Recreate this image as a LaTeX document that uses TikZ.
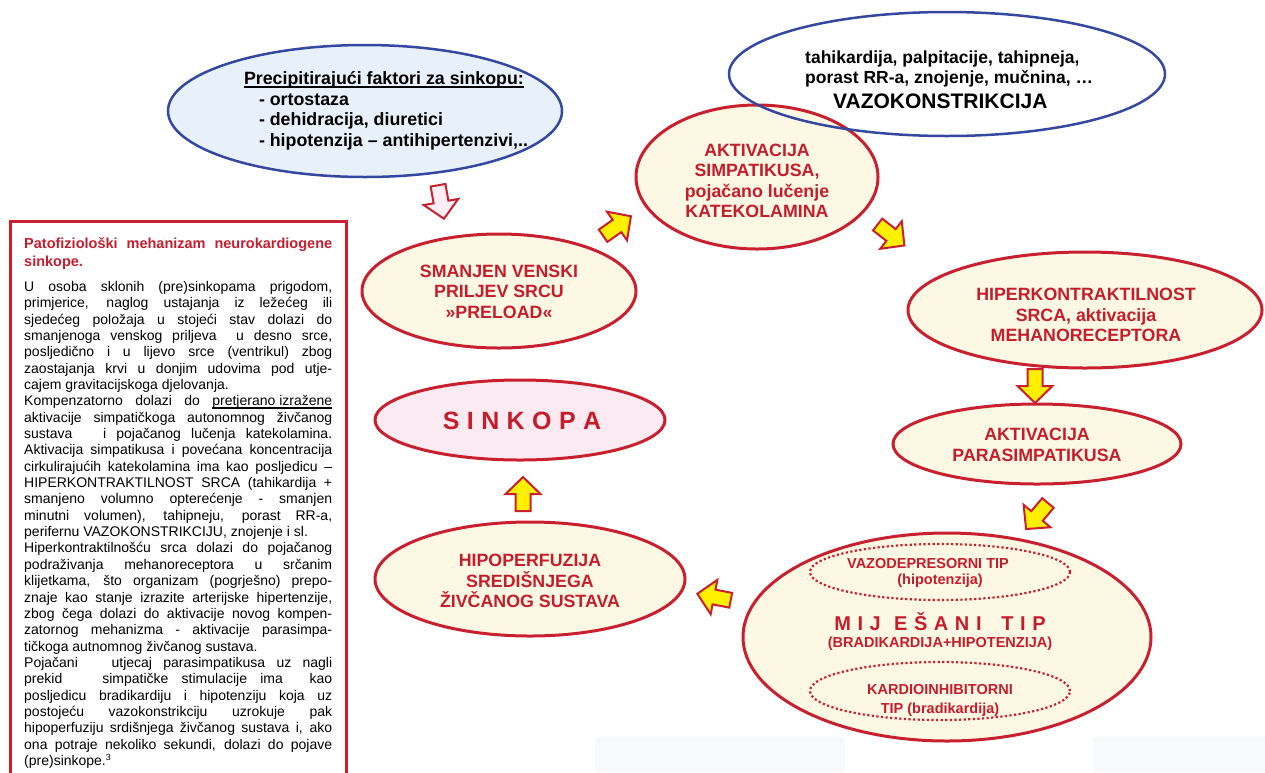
\documentclass[tikz,border=0pt]{standalone}
\usepackage{fontspec}
\setmainfont{Liberation Sans}
\usetikzlibrary{shapes.geometric}
\definecolor{dred}{RGB}{200,32,46}
\definecolor{tred}{RGB}{196,30,45}
\definecolor{cream}{RGB}{252,248,228}
\definecolor{dblue}{RGB}{52,72,160}
\definecolor{lblue}{RGB}{232,240,250}
\definecolor{lpink}{RGB}{251,234,241}
\definecolor{ayellow}{RGB}{255,240,0}
\definecolor{apink}{RGB}{253,238,244}
\definecolor{patchc}{RGB}{248,249,251}
\newcommand\gp{\hspace{6.6pt}}
\newcommand\gq{\hspace{7.4pt}}
\newcommand\jl[1]{\hbox to 308pt{#1}}
\newcommand\lline[1]{\hbox{#1}}
\newcommand\thickul[3]{\setbox0\hbox{#1}\rlap{\rule[-#2]{\wd0}{#3}}\box0}
\tikzset{
  pics/barrow/.style={code={
    \draw[#1] (-17,-7.5) -- (0,-7.5) -- (0,-17.5) -- (17,0) -- (0,17.5) -- (0,7.5) -- (-17,7.5) -- cycle;
  }},
  yarrow/.style={draw=dred, fill=ayellow, line width=2pt, line join=miter},
  harrow/.style={draw=dred, fill=apink, line width=2pt, line join=miter},
  redell/.style={ellipse, draw=dred, line width=3pt, fill=cream, inner sep=0pt},
  redtxt/.style={text=tred, font=\bfseries\fontsize{17.8}{20.5}\selectfont, align=center, inner sep=0pt},
  smalltxt/.style={text=tred, font=\bfseries\fontsize{14.5}{17}\selectfont, inner sep=0pt, anchor=base},
  dotell/.style={ellipse, draw=dred, line width=2.2pt, dash pattern=on 2.2pt off 2.4pt, inner sep=0pt},
  blacktxt/.style={text=black, font=\bfseries\fontsize{17.5}{20.5}\selectfont, inner sep=0pt, anchor=base west}
}
\begin{document}
\begin{tikzpicture}[x=1pt,y=-1pt]
\useasboundingbox (0,0) rectangle (1265,772);
% faint patches at the bottom
\fill[patchc] (595,737) rectangle (845,772);
\fill[patchc] (1093,737) rectangle (1265,772);

% left text box
\draw[dred, line width=3pt] (10,790) -- (10,221) -- (346,221) -- (346,790);
\node[anchor=north west, inner sep=0pt, text=tred] (boxtitle) at (24,237.5)
 {\vtop{\hsize=308pt\fontsize{14.5}{18}\selectfont\bfseries
 \jl{Patofiziološki mehanizam neurokardiogene}
 \lline{sinkope.}}};
\node[anchor=north west, inner sep=0pt, text=black] (boxtext) at (24,281)
 {\vtop{\hsize=308pt\fontsize{14}{16.35}\selectfont
 \jl{U osoba sklonih (pre)sinkopama prigodom,}
 \jl{primjerice, naglog ustajanja iz ležećeg ili}
 \jl{sjedećeg položaja u stojeći stav dolazi do}
 \jl{smanjenoga venskog priljeva\ \ u desno srce,}
 \jl{posljedično i u lijevo srce (ventrikul) zbog}
 \jl{zaostajanja krvi u donjim udovima pod utje-}
 \lline{cajem gravitacijskoga djelovanja.}
 \jl{Kompenzatorno dolazi do \thickul{pretjerano izražene}{3pt}{1.6pt}}
 \jl{aktivacije simpatičkoga autonomnog živčanog}
 \jl{sustava\ \ \ i pojačanog lučenja katekolamina.}
 \jl{Aktivacija simpatikusa i povećana koncentracija}
 \jl{cirkulirajućih katekolamina ima kao posljedicu –}
 \jl{HIPERKONTRAKTILNOST SRCA (tahikardija +}
 \jl{smanjeno volumno opterećenje - smanjen}
 \jl{minutni volumen), tahipneju, porast RR-a,}
 \lline{perifernu VAZOKONSTRIKCIJU, znojenje i sl.}
 \jl{Hiperkontraktilnošću srca dolazi do pojačanog}
 \jl{podraživanja mehanoreceptora u srčanim}
 \jl{klijetkama, što organizam (pogrješno) prepo-}
 \jl{znaje kao stanje izrazite arterijske hipertenzije,}
 \jl{zbog čega dolazi do aktivacije novog kompen-}
 \jl{zatornog mehanizma - aktivacije parasimpa-}
 \lline{tičkoga autnomnog živčanog sustava.}
 \jl{Pojačani\ \ \ utjecaj parasimpatikusa uz nagli}
 \jl{prekid\ \ \ simpatičke stimulacije ima\ \ kao}
 \jl{posljedicu bradikardiju i hipotenziju koja uz}
 \jl{postojeću vazokonstrikciju uzrokuje pak}
 \jl{hipoperfuziju srdišnjega živčanog sustava i, ako}
 \jl{ona potraje nekoliko sekundi, dolazi do pojave}
 \lline{(pre)sinkope.\textsuperscript{\fontsize{9}{9}\selectfont 3}}}};

% precipitating factors
\node[ellipse, draw=dblue, line width=2.5pt, fill=lblue, inner sep=0pt,
  minimum width=394pt, minimum height=132pt] (precip) at (365,111) {};
\node[text=black, font=\bfseries\fontsize{17.8}{20.6}\selectfont, align=left, inner sep=0pt] (preciptext) at (386,111)
 {\thickul{Precipitirajući faktori za sinkopu:}{3.2pt}{1.7pt}\\
  \hspace*{15pt}- ortostaza\\
  \hspace*{15pt}- dehidracija, diuretici\\
  \hspace*{15pt}- hipotenzija – antihipertenzivi,..};

% main ellipses
\node[redell, minimum width=242pt, minimum height=144pt] (simp) at (757,177) {};
\node[redtxt] (simptext) at (757,181) {AKTIVACIJA\\SIMPATIKUSA,\\pojačano lučenje\\KATEKOLAMINA};

\node[ellipse, draw=dblue, line width=2.5pt, inner sep=0pt,
  minimum width=436pt, minimum height=124pt] (symp) at (947,74) {};
\node[blacktxt] (sym1) at (805,63) {tahikardija, palpitacije, tahipneja,};
\node[blacktxt] (sym2) at (805,83) {porast RR-a, znojenje, mučnina, …};
\node[blacktxt, font=\bfseries\fontsize{21}{24}\selectfont] (sym3) at (833,108) {VAZOKONSTRIKCIJA};

\node[redell, minimum width=274pt, minimum height=114pt] (smanjen) at (499,291) {};
\node[redtxt] (smanjentext) at (499,291.5) {SMANJEN VENSKI\\PRILJEV SRCU\\»PRELOAD«};

\node[redell, fill=lpink, minimum width=290pt, minimum height=80pt] (sinkopa) at (520,420) {};
\node[text=tred, font=\bfseries\fontsize{25}{28}\selectfont, inner sep=0pt, anchor=base] (sinkopatext) at (522,429)
 {S\gq I\gq N\gq K\gq O\gq P\gq A};

\node[redell, minimum width=354pt, minimum height=116pt] (hiperk) at (1085,310) {};
\node[redtxt] (hiperktext) at (1086,315) {HIPERKONTRAKTILNOST\\SRCA, aktivacija\\MEHANORECEPTORA};

\node[redell, minimum width=288pt, minimum height=80pt] (para) at (1037,444) {};
\node[redtxt] (paratext) at (1037,445) {AKTIVACIJA\\PARASIMPATIKUSA};

\node[redell, minimum width=310pt, minimum height=114pt] (hipo) at (530,579) {};
\node[redtxt] (hipotext) at (530,581) {HIPOPERFUZIJA\\SREDIŠNJEGA\\ŽIVČANOG SUSTAVA};

% big ellipse with types
\node[redell, minimum width=408pt, minimum height=208pt] (tip) at (947,637) {};
\node[dotell, minimum width=260pt, minimum height=56pt] (vazo) at (940,572) {};
\node[dotell, minimum width=260pt, minimum height=58pt] (kardio) at (940,691) {};
\node[smalltxt] (vaz1) at (928,568) {VAZODEPRESORNI TIP};
\node[smalltxt] (vaz2) at (940,584) {(hipotenzija)};
\node[smalltxt, font=\bfseries\fontsize{20}{24}\selectfont] (mix1) at (940,630)
 {M\gp I\gp J\gp\gp E\gp Š\gp A\gp N\gp I\gp\gp\gp T\gp I\gp P};
\node[smalltxt] (mix2) at (940,647) {(BRADIKARDIJA+HIPOTENZIJA)};
\node[smalltxt] (kar1) at (940,694) {KARDIOINHIBITORNI};
\node[smalltxt] (kar2) at (940,713) {TIP (bradikardija)};

% block arrows
\pic[rotate=-80] (a0) at (441,202) {barrow=harrow};
\pic[rotate=35] (a1) at (617,226) {barrow=yarrow};
\pic[rotate=-38] (a2) at (891,235) {barrow=yarrow};
\pic[rotate=-90] (a3) at (1035,386) {barrow=yarrow};
\pic[rotate=-130] (a4) at (1037,516) {barrow=yarrow};
\pic[rotate=169] (a5) at (714,597) {barrow=yarrow};
\pic[rotate=90] (a6) at (523,494) {barrow=yarrow};
\end{tikzpicture}
\end{document}
